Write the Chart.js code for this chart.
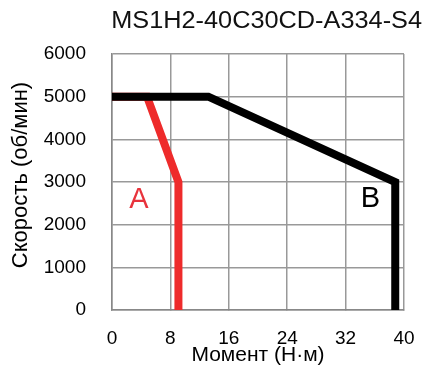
<!DOCTYPE html>
<html>
<head>
<meta charset="utf-8">
<script src="https://cdn.jsdelivr.net/npm/chart.js@4"></script>
<style>
    html, body { margin: 0; padding: 0; background: #fff; }
    #wrap { width: 426px; height: 372px; }
</style>
</head>
<body>
<div id="wrap"><canvas id="chart"></canvas></div>
<script>
// Chart data.
const chart_title = "MS1H2-40C30CD-A334-S4";
const x_title = "Момент (Н·м)";
const y_title = "Скорость (об/мин)";

const torque_a = [0, 4.8, 9.1, 9.1];
const speed_a = [5000, 5000, 3000, 0];
const torque_b = [0, 13.2, 38.8, 38.8];
const speed_b = [5000, 5000, 3000, 0];

const FONT = "'Liberation Sans', Arial, sans-serif";

// Build {x, y} points.
function to_points(xs, ys) {
    return xs.map((x, i) => ({ x: x, y: ys[i] }));
}

// Draw title, y title and curve labels.
const text_plugin = {
    id: 'text_plugin',
    afterDraw(chart) {
        const ctx = chart.ctx;
        const xs = chart.scales.x, ys = chart.scales.y;
        ctx.save();
        ctx.textBaseline = 'middle';

        // Title, slightly stretched like the original.
        ctx.save();
        ctx.fillStyle = '#111';
        ctx.font = '23px ' + FONT;
        ctx.textAlign = 'right';
        ctx.translate(422, 22);
        ctx.scale(1.1, 1);
        ctx.fillText(chart_title, 0, 0);
        ctx.restore();

        // Y axis title.
        ctx.save();
        ctx.fillStyle = '#000';
        ctx.font = '22px ' + FONT;
        ctx.textAlign = 'center';
        ctx.translate(21, 175);
        ctx.rotate(-Math.PI / 2);
        ctx.fillText(y_title, 0, 0);
        ctx.restore();

        ctx.textAlign = 'center';
        ctx.font = '29px ' + FONT;
        ctx.fillStyle = '#e8333c';
        ctx.fillText('A', xs.getPixelForValue(3.7), ys.getPixelForValue(2580));
        ctx.fillStyle = '#000';
        ctx.fillText('B', xs.getPixelForValue(35.4), ys.getPixelForValue(2600));
        ctx.restore();
    }
};

const ctx = document.getElementById('chart');

const config = {
    type: 'line',
    data: {
        datasets: [
            {
                data: to_points(torque_b, speed_b),
                borderColor: '#000',
            },
            {
                data: to_points(torque_a, speed_a),
                borderColor: '#ee2b2b',
            },
        ]
    },
    options: {
        responsive: true,
        maintainAspectRatio: false,
        animation: false,
        layout: {
            padding: { top: 54, right: 22, bottom: 4, left: 8 },
        },
        elements: {
            line: {
                borderWidth: 8,
                tension: 0,
                borderJoinStyle: 'miter',
                borderCapStyle: 'butt',
                fill: false,
            },
            point: { radius: 0 },
        },
        plugins: {
            legend: { display: false },
            tooltip: { enabled: false },
        },
        scales: {
            x: {
                type: 'linear',
                min: 0,
                max: 40,
                ticks: {
                    stepSize: 8,
                    color: '#000',
                    font: { family: FONT, size: 19 },
                    padding: 17,
                    callback: (v) => String(v),
                },
                grid: { color: '#999', lineWidth: 1.5, tickLength: 0 },
                border: { color: '#888', width: 1.5 },
                title: {
                    display: true,
                    text: x_title,
                    color: '#000',
                    font: { family: FONT, size: 21 },
                    padding: 0,
                },
                afterFit(scale) {
                    scale.height = 58;
                    // Keep tick padding from squeezing the plot sideways.
                    scale.paddingLeft = 0;
                    scale.paddingRight = 0;
                },
            },
            y: {
                min: 0,
                max: 6000,
                ticks: {
                    stepSize: 1000,
                    color: '#000',
                    font: { family: FONT, size: 19 },
                    padding: 26,
                    callback: (v) => String(v),
                },
                grid: { color: '#999', lineWidth: 1.5, tickLength: 0 },
                border: { color: '#888', width: 1.5 },
                afterFit(scale) { scale.width = 104; },
            },
        },
    },
    plugins: [text_plugin],
};

window.myChart = new Chart(ctx, config);
</script>
</body>
</html>
